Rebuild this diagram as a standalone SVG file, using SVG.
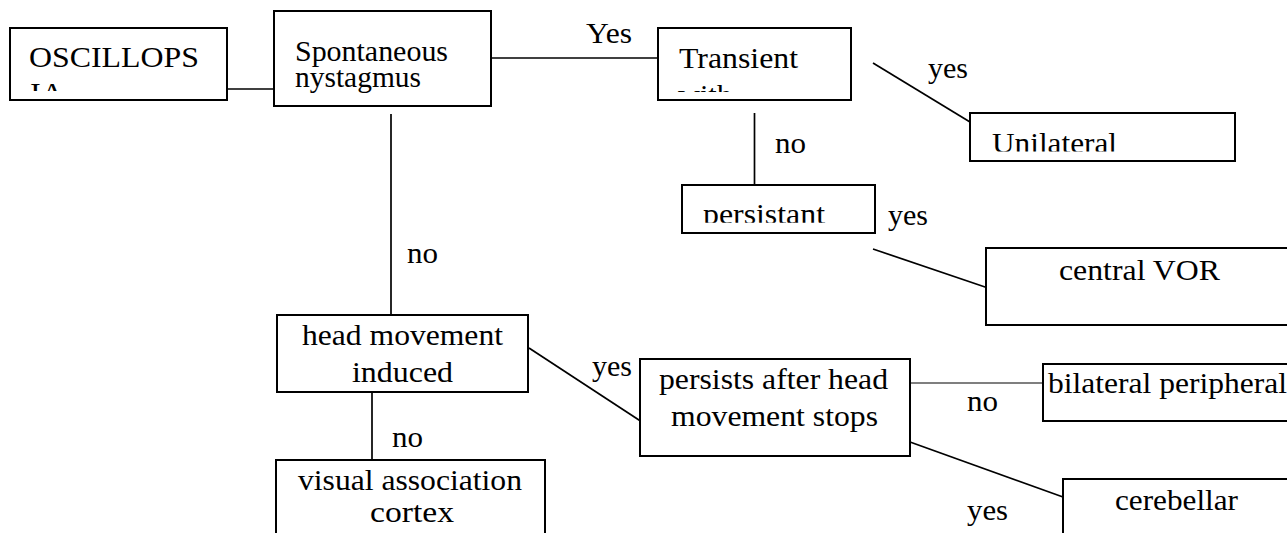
<svg xmlns="http://www.w3.org/2000/svg" width="1287" height="533" viewBox="0 0 1287 533">
<style>
.box{fill:#fff;stroke:#000;stroke-width:2}
.ln{stroke:#000;stroke-width:1.7;fill:none}
.thin{stroke:#000;stroke-width:1.1;fill:none}
text{font-family:"Liberation Serif","Times New Roman",Tinos,"Nimbus Roman","DejaVu Serif",serif;font-size:30px;fill:#000}
</style>
<defs>
<clipPath id="cOsc"><rect x="10" y="28" width="217" height="63"/></clipPath>
<clipPath id="cTr"><rect x="658" y="28" width="193" height="64"/></clipPath>
<clipPath id="cUni"><rect x="970" y="113" width="265" height="38.5"/></clipPath>
<clipPath id="cPer"><rect x="682" y="185" width="193" height="37.8"/></clipPath>
</defs>
<rect width="1287" height="533" fill="#fff"/>
<g id="connectors">
<line class="ln" x1="227" y1="89" x2="274" y2="89"/>
<line class="ln" x1="491" y1="58" x2="658" y2="58"/>
<line class="ln" x1="873" y1="63" x2="970" y2="122"/>
<line class="ln" x1="754.5" y1="113" x2="754.5" y2="185"/>
<line class="ln" x1="873" y1="249" x2="988" y2="288"/>
<line class="ln" x1="391" y1="114" x2="391" y2="327"/>
<line class="ln" x1="529" y1="348" x2="642" y2="422"/>
<line class="ln" x1="372" y1="382" x2="372" y2="460"/>
<line class="thin" x1="910" y1="383" x2="1043" y2="383"/>
<line class="ln" x1="910" y1="442" x2="1063" y2="497"/>
<text x="586" y="43" textLength="46" lengthAdjust="spacingAndGlyphs">Yes</text>
<text x="928" y="78" textLength="40" lengthAdjust="spacingAndGlyphs">yes</text>
<text x="775" y="153" textLength="31" lengthAdjust="spacingAndGlyphs">no</text>
<text x="888" y="225" textLength="40" lengthAdjust="spacingAndGlyphs">yes</text>
<text x="407" y="263" textLength="31" lengthAdjust="spacingAndGlyphs">no</text>
<text x="592" y="376" textLength="40" lengthAdjust="spacingAndGlyphs">yes</text>
<text x="392" y="447" textLength="31" lengthAdjust="spacingAndGlyphs">no</text>
<text x="967" y="411" textLength="31" lengthAdjust="spacingAndGlyphs">no</text>
<text x="967" y="520" textLength="41" lengthAdjust="spacingAndGlyphs">yes</text>
</g>
<g id="oscillopsia">
<rect class="box" x="10" y="28" width="217" height="72"/>
<g clip-path="url(#cOsc)">
<text x="29" y="67" textLength="170" lengthAdjust="spacingAndGlyphs">OSCILLOPS</text>
<text x="30" y="103" textLength="34" lengthAdjust="spacingAndGlyphs">IA</text>
</g>
</g>
<g id="spontaneous">
<rect class="box" x="274" y="11" width="217" height="95"/>
<text x="295" y="61" textLength="153" lengthAdjust="spacingAndGlyphs">Spontaneous</text>
<text x="295" y="87" textLength="126" lengthAdjust="spacingAndGlyphs">nystagmus</text>
</g>
<g id="transient">
<rect class="box" x="658" y="28" width="193" height="72"/>
<g clip-path="url(#cTr)">
<text x="679" y="68" textLength="119" lengthAdjust="spacingAndGlyphs">Transient</text>
<text x="678" y="105" textLength="54" lengthAdjust="spacingAndGlyphs">with</text>
</g>
</g>
<g id="unilateral">
<rect class="box" x="970" y="113" width="265" height="48"/>
<g clip-path="url(#cUni)">
<text x="992" y="153" textLength="125" lengthAdjust="spacingAndGlyphs">Unilateral</text>
</g>
</g>
<g id="persistant">
<rect class="box" x="682" y="185" width="193" height="48"/>
<g clip-path="url(#cPer)">
<text x="703" y="224" textLength="122" lengthAdjust="spacingAndGlyphs">persistant</text>
</g>
</g>
<g id="centralVOR">
<rect class="box" x="986" y="248" width="320" height="77"/>
<text x="1059" y="280" textLength="161" lengthAdjust="spacingAndGlyphs">central VOR</text>
</g>
<g id="headMovement">
<rect class="box" x="277" y="315" width="251" height="77"/>
<text x="302" y="345" textLength="201" lengthAdjust="spacingAndGlyphs">head movement</text>
<text x="352" y="382" textLength="101" lengthAdjust="spacingAndGlyphs">induced</text>
</g>
<g id="visualCortex">
<rect class="box" x="276" y="460" width="269" height="90"/>
<text x="298" y="490" textLength="224" lengthAdjust="spacingAndGlyphs">visual association</text>
<text x="370" y="522" textLength="84" lengthAdjust="spacingAndGlyphs">cortex</text>
</g>
<g id="persists">
<rect class="box" x="640" y="359" width="270" height="97"/>
<text x="659" y="389" textLength="229" lengthAdjust="spacingAndGlyphs">persists after head</text>
<text x="671" y="426" textLength="207" lengthAdjust="spacingAndGlyphs">movement stops</text>
</g>
<g id="bilateral">
<rect class="box" x="1043" y="364" width="260" height="57"/>
<text x="1048" y="393" textLength="239" lengthAdjust="spacingAndGlyphs">bilateral peripheral</text>
</g>
<g id="cerebellar">
<rect class="box" x="1063" y="479" width="240" height="80"/>
<text x="1115" y="510" textLength="123" lengthAdjust="spacingAndGlyphs">cerebellar</text>
</g>
</svg>
